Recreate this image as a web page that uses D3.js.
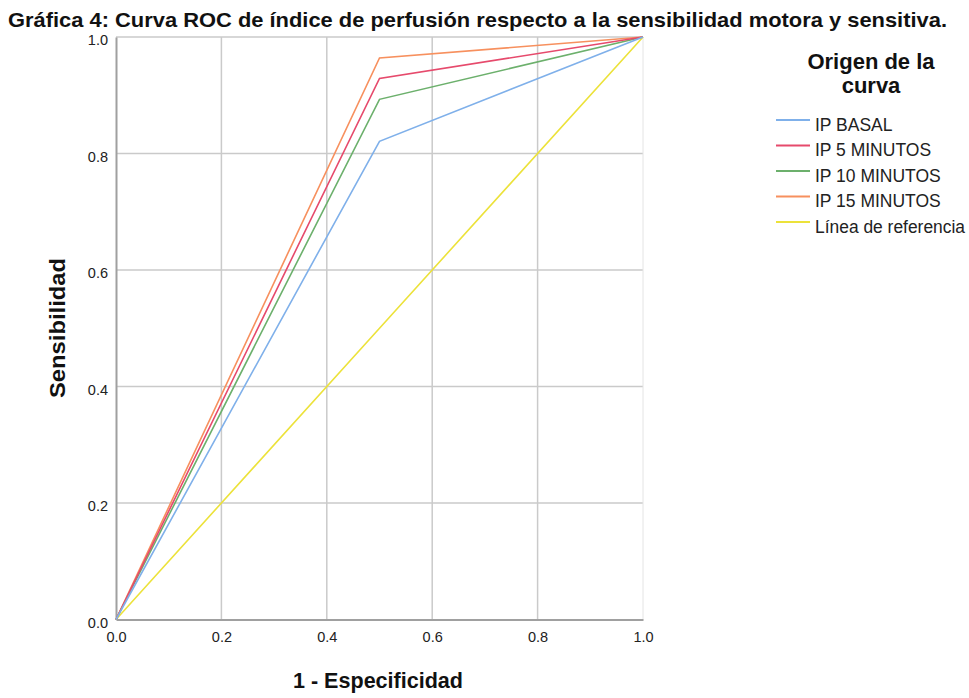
<!DOCTYPE html>
<html><head><meta charset="utf-8">
<script src="https://cdn.jsdelivr.net/npm/d3@7"></script>
<style>body{margin:0;background:#fff}svg{display:block}text{font-family:"Liberation Sans",Arial,sans-serif}</style>
</head><body>
<script>
const seriesNames = ["IP BASAL","IP 5 MINUTOS","IP 10 MINUTOS","IP 15 MINUTOS","Línea de referencia"];
const seriesColors = ["#7fb0ea","#e64a6c","#6cb06c","#f7905e","#ece23a"];
const xValues = [0, 0.5, 1];
const ipBasal = [0, 0.821, 1];
const ip5 = [0, 0.929, 1];
const ip10 = [0, 0.893, 1];
const ip15 = [0, 0.964, 1];
const refLine = [0, 0.5, 1];
const tickValues = [0, 0.2, 0.4, 0.6, 0.8, 1.0];
const seriesData = [ipBasal, ip5, ip10, ip15, refLine];

const W = 969, H = 698;
const svg = d3.select("body").append("svg").attr("width", W).attr("height", H);
const x = d3.scaleLinear().domain([0,1]).range([116, 643]);
const y = d3.scaleLinear().domain([0,1]).range([619.5, 37]);

// grid
const g = svg.append("g");
g.selectAll("line.vx").data(tickValues.slice(1,5)).join("line")
  .attr("x1", d=>x(d)).attr("x2", d=>x(d)).attr("y1", y(1)).attr("y2", y(0))
  .attr("stroke", "#cacaca").attr("stroke-width", 1.5);
g.selectAll("line.hy").data(tickValues.slice(1,6)).join("line")
  .attr("x1", x(0)).attr("x2", x(1)).attr("y1", d=>y(d)).attr("y2", d=>y(d))
  .attr("stroke", "#cacaca").attr("stroke-width", 1.5);
// right border
g.append("line").attr("x1", x(1)).attr("x2", x(1)).attr("y1", y(1)).attr("y2", y(0))
  .attr("stroke", "#e4e4e4").attr("stroke-width", 1);
// axes
const xAxis = svg.append("g").attr("transform", `translate(0,${y(0)})`)
  .call(d3.axisBottom(x).tickValues(tickValues).tickFormat(d3.format(".1f")).tickSize(0).tickPadding(12));
const yAxis = svg.append("g").attr("transform", `translate(${x(0)},0)`)
  .call(d3.axisLeft(y).tickValues(tickValues).tickFormat(d3.format(".1f")).tickSize(0).tickPadding(8));
[xAxis, yAxis].forEach(a => {
  a.select(".domain").attr("stroke", "#a0a0a0").attr("stroke-width", 2);
  a.selectAll("text").attr("font-size", 14.5).attr("fill", "#222").attr("font-family", '"Liberation Sans",Arial,sans-serif');
});
yAxis.selectAll(".tick text").attr("dy", "0.55em");

// lines
const line = d3.line().x((d,i)=>x(xValues[i])).y(d=>y(d));
svg.append("g").selectAll("path").data(seriesData.map((s,i)=>({s,i})).reverse()).join("path")
  .attr("d", d=>line(d.s)).attr("fill","none")
  .attr("stroke", d=>seriesColors[d.i]).attr("stroke-width", 1.6);

// title
svg.append("text").attr("x", 8).attr("y", 27).attr("font-size", 21).attr("font-weight", "bold")
  .attr("textLength", 939).attr("lengthAdjust", "spacingAndGlyphs").attr("fill", "#111")
  .text("Gráfica 4: Curva ROC de índice de perfusión respecto a la sensibilidad motora y sensitiva.");

// axis titles
svg.append("text").attr("x", 378).attr("y", 688).attr("text-anchor","middle")
  .attr("font-size", 21.5).attr("font-weight","bold").attr("fill","#111")
  .attr("textLength", 170).attr("lengthAdjust", "spacingAndGlyphs").text("1 - Especificidad");
svg.append("text").attr("transform","translate(65,328) rotate(-90)").attr("text-anchor","middle")
  .attr("font-size", 22).attr("font-weight","bold").attr("fill","#111")
  .attr("textLength", 140).attr("lengthAdjust", "spacingAndGlyphs").text("Sensibilidad");

// legend
svg.append("text").attr("x", 871).attr("y", 69).attr("text-anchor","middle")
  .attr("font-size", 22).attr("font-weight","bold").attr("fill","#111").text("Origen de la");
svg.append("text").attr("x", 871).attr("y", 93).attr("text-anchor","middle")
  .attr("font-size", 22).attr("font-weight","bold").attr("fill","#111").text("curva");
const leg = svg.append("g").selectAll("g").data(seriesNames).join("g")
  .attr("transform", (d,i)=>`translate(0,${120 + i*25.5})`);
leg.append("line").attr("x1", 776).attr("x2", 810).attr("y1",0).attr("y2",0)
  .attr("stroke", (d,i)=>seriesColors[i]).attr("stroke-width", 2);
leg.append("text").attr("x", 815).attr("y", 10.5).attr("font-size", 17.5).attr("fill","#222")
  .attr("textLength", (d,i)=> i===4 ? 150 : null).attr("lengthAdjust","spacingAndGlyphs").text(d=>d);
</script>
</body></html>
